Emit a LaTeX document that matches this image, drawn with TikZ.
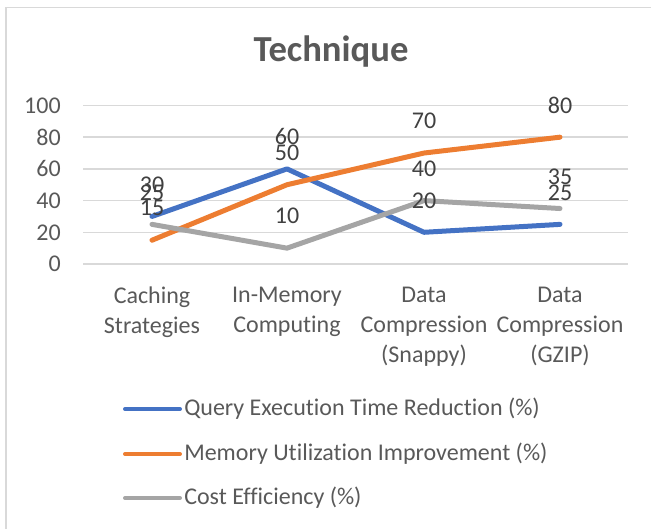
\documentclass[tikz,border=0pt]{standalone}
\usepackage{fontspec}
\setmainfont[RawFeature={-liga;-clig;-calt}]{Carlito}
\usetikzlibrary{positioning}
\definecolor{qblue}{HTML}{4472C4}
\definecolor{morange}{HTML}{ED7D31}
\definecolor{cgray}{HTML}{A5A5A5}
\definecolor{gridgray}{HTML}{D9D9D9}
\definecolor{axistext}{HTML}{595959}
\definecolor{valuetext}{HTML}{404040}
\tikzset{
  series/.style={line width=3.75pt, line cap=round, line join=round},
  legendline/.style={line width=3pt, line cap=round},
  gridline/.style={gridgray, line width=1.1pt},
  chartframe/.style={gridgray, line width=1.2pt},
  ticklabel/.style={anchor=east, inner sep=0pt, text=axistext, font=\fontsize{18}{21}\selectfont},
  catlabel/.style={anchor=north, inner sep=0pt, align=center, text=axistext, font=\fontsize{18}{22.3}\selectfont},
  valuelabel/.style={inner sep=0pt, text=valuetext, font=\fontsize{18}{21}\selectfont},
  legendtext/.style={anchor=west, inner sep=0pt, text=axistext, font=\fontsize{18}{21}\selectfont},
  charttitle/.style={inner sep=0pt, text=axistext, font=\fontsize{27.5}{32}\selectfont\bfseries}
}
\begin{document}
\begin{tikzpicture}[x=0.75pt, y=-0.75pt]
  \useasboundingbox (0,0) rectangle (651,529);
  \draw[chartframe] (6,529) -- (6,7.5) -- (651,7.5);

  \node[charttitle] (title) at (331,52) {Technique};

  % plot area, y in data units
  \begin{scope}[shift={(0,264)}, y=1.189pt]
    \draw[gridline] (83,0) -- (628,0);
    \draw[gridline] (83,20) -- (628,20);
    \draw[gridline] (83,40) -- (628,40);
    \draw[gridline] (83,60) -- (628,60);
    \draw[gridline] (83,80) -- (628,80);
    \draw[gridline] (83,100) -- (628,100);

    \node[ticklabel] (tick0) at (61,0) {0};
    \node[ticklabel] (tick20) at (61,20) {20};
    \node[ticklabel] (tick40) at (61,40) {40};
    \node[ticklabel] (tick60) at (61,60) {60};
    \node[ticklabel] (tick80) at (61,80) {80};
    \node[ticklabel] (tick100) at (61,100) {100};

    \coordinate (q1) at (152,30);
    \coordinate (q2) at (287,60);
    \coordinate (q3) at (424,20);
    \coordinate (q4) at (560,25);
    \coordinate (m1) at (152,15);
    \coordinate (m2) at (287,50);
    \coordinate (m3) at (424,70);
    \coordinate (m4) at (560,80);
    \coordinate (c1) at (152,25);
    \coordinate (c2) at (287,10);
    \coordinate (c3) at (424,40);
    \coordinate (c4) at (560,35);

    \draw[series, qblue] (q1) -- (q2) -- (q3) -- (q4);
    \draw[series, morange] (m1) -- (m2) -- (m3) -- (m4);
    \draw[series, cgray] (c1) -- (c2) -- (c3) -- (c4);

    \node[valuelabel] (vq1) at ([yshift=24pt]q1) {30};
    \node[valuelabel] (vq2) at ([yshift=24pt]q2) {60};
    \node[valuelabel] (vq3) at ([yshift=24pt]q3) {20};
    \node[valuelabel] (vq4) at ([yshift=24pt]q4) {25};
    \node[valuelabel] (vm1) at ([yshift=24pt]m1) {15};
    \node[valuelabel] (vm2) at ([yshift=24pt]m2) {50};
    \node[valuelabel] (vm3) at ([yshift=24pt]m3) {70};
    \node[valuelabel] (vm4) at ([yshift=24pt]m4) {80};
    \node[valuelabel] (vc1) at ([yshift=24pt]c1) {25};
    \node[valuelabel] (vc2) at ([yshift=24pt]c2) {10};
    \node[valuelabel] (vc3) at ([yshift=24pt]c3) {40};
    \node[valuelabel] (vc4) at ([yshift=24pt]c4) {35};
  \end{scope}

  \node[catlabel] (cat1) at (152,287) {Caching\\Strategies};
  \node[catlabel] (cat2) at (287,287) {In-Memory\\Computing};
  \node[catlabel] (cat3) at (424,287) {Data\\Compression\\(Snappy)};
  \node[catlabel] (cat4) at (560,287) {Data\\Compression\\(GZIP)};

  % legend
  \coordinate (lgqa) at (125,409);
  \coordinate (lgqb) at (180,409);
  \coordinate (lgma) at (125,454);
  \coordinate (lgmb) at (180,454);
  \coordinate (lgca) at (125,498);
  \coordinate (lgcb) at (180,498);
  \draw[legendline, qblue] (lgqa) -- (lgqb);
  \draw[legendline, morange] (lgma) -- (lgmb);
  \draw[legendline, cgray] (lgca) -- (lgcb);
  \node[legendtext, right=3pt of lgqb] (lgq) {Query Execution Time Reduction (\%)};
  \node[legendtext, right=3pt of lgmb] (lgm) {Memory Utilization Improvement (\%)};
  \node[legendtext, right=3pt of lgcb] (lgc) {Cost Efficiency (\%)};
\end{tikzpicture}
\end{document}
